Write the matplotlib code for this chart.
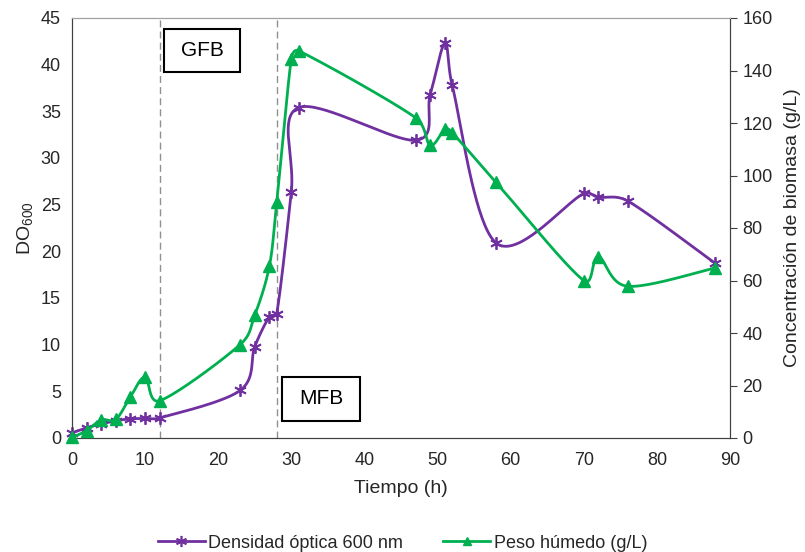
import numpy as np
import matplotlib
matplotlib.use("Agg")
import matplotlib.pyplot as plt
from matplotlib.patches import Rectangle
from matplotlib.lines import Line2D

plt.rcParams['font.family'] = ['Liberation Sans', 'DejaVu Sans']
plt.rcParams['mathtext.default'] = 'regular'

# Data
t_do = [0, 2, 4, 6, 8, 10, 12, 23, 25, 27, 28, 30, 31, 47, 49, 51, 52, 58, 70, 72, 76, 88]
do600 = [0.55, 1.1, 1.5, 1.85, 2.05, 2.1, 2.15, 5.1, 9.8, 13.0, 13.3, 26.4, 35.4, 31.9, 36.8, 42.3, 37.8, 20.9, 26.2, 25.8, 25.4, 18.7]

t_pw = [0, 2, 4, 6, 8, 10, 12, 23, 25, 27, 28, 30, 31, 47, 49, 51, 52, 58, 70, 72, 76, 88]
peso = [0.2, 2.8, 6.9, 7.1, 15.7, 23.2, 14.2, 35.6, 46.8, 65.5, 89.8, 144.5, 147.5, 122.0, 111.5, 117.6, 116.3, 97.4, 60.0, 69.0, 57.8, 64.8]

phase_lines = [12, 28]
phase_labels = ["GFB", "MFB"]

XMAX, Y1MAX, Y2MAX = 90, 45, 160
PW, PH = 658.0, 420.0

def smooth(x, y, ymax, n=40):
    X = np.asarray(x, float) / XMAX * PW
    Y = np.asarray(y, float) / ymax * PH
    P = np.column_stack([X, Y])
    out = [P[0]]
    for i in range(len(P) - 1):
        p0 = P[i - 1] if i > 0 else P[i]
        p1 = P[i]
        p2 = P[i + 1]
        p3 = P[i + 2] if i + 2 < len(P) else P[i + 1]
        L = np.linalg.norm(p2 - p1)
        t1 = (p2 - p0) / 6.0
        t2 = (p3 - p1) / 6.0
        for t in (t1, t2):
            nt = np.linalg.norm(t)
            if nt > L / 2.2 and nt > 0:
                t *= (L / 2.2) / nt
        c1 = p1 + t1
        c2 = p2 - t2
        s = np.linspace(0, 1, n)[1:, None]
        seg = ((1 - s) ** 3) * p1 + 3 * ((1 - s) ** 2) * s * c1 + 3 * (1 - s) * s ** 2 * c2 + s ** 3 * p2
        out.extend(seg)
    out = np.array(out)
    return out[:, 0] / PW * XMAX, out[:, 1] / PH * ymax

purple = '#7030A0'
green = '#00B050'

fig = plt.figure(figsize=(8.05, 5.52), dpi=100)
ax = fig.add_axes([72 / 805, 1 - 438 / 552, 658 / 805, 420 / 552])
ax2 = ax.twinx()

sx, sy = smooth(t_do, do600, Y1MAX)
ax.plot(sx, sy, color=purple, lw=2.0, zorder=3)
ax.plot(t_do, do600, linestyle='none', marker=(6, 2, 0), markersize=9, markeredgewidth=1.3,
        color=purple, zorder=4, clip_on=False)

gx, gy = smooth(t_pw, peso, Y2MAX)
ax2.plot(gx, gy, color=green, lw=2.0, zorder=3)
ax2.plot(t_pw, peso, linestyle='none', marker='^', markersize=8, color=green, zorder=4, clip_on=False)

ax.set_xlim(0, XMAX)
ax.set_ylim(0, Y1MAX)
ax2.set_ylim(0, Y2MAX)
ax.set_xticks(range(0, 91, 10))
ax.set_yticks(range(0, 46, 5))
ax2.set_yticks(range(0, 161, 20))

for xv in phase_lines:
    ax.axvline(xv, color='#909090', lw=1.0, ls=(0, (5, 3)), zorder=1)

ax.tick_params(axis='both', length=0, labelsize=13, colors='#262626')
ax.tick_params(axis='x', pad=10)
ax.tick_params(axis='y', pad=8)
ax2.tick_params(axis='y', length=5, width=0.8, direction='out', labelsize=13, colors='#262626', pad=4)
ax2.tick_params(axis='y', color='#404040')

for a in (ax, ax2):
    a.spines['top'].set_color('#a0a0a0')
    a.spines['left'].set_color('#404040')
    a.spines['right'].set_color('#404040')
    a.spines['bottom'].set_color('#404040')

ax.set_xlabel('Tiempo (h)', fontsize=14, color='#262626', labelpad=8)
ax.set_ylabel('DO$_{600}$', fontsize=14, color='#262626', labelpad=4)
ax2.set_ylabel('Concentración de biomasa (g/L)', fontsize=14, color='#262626', labelpad=8)

boxes = [((164 - 72) / PW, (438 - 72) / PH, 76 / PW, 43 / PH),
         ((282 - 72) / PW, (438 - 421) / PH, 78 / PW, 44 / PH)]
for (bx, by, bw, bh), lab in zip(boxes, phase_labels):
    ax2.add_patch(Rectangle((bx, by), bw, bh, transform=ax.transAxes, facecolor='white',
                            edgecolor='black', lw=1.5, zorder=5))
    ax2.text(bx + bw / 2, by + bh / 2, lab, transform=ax.transAxes, ha='center', va='center',
             fontsize=15, color='black', zorder=6)

handles = [Line2D([], [], color=purple, lw=2, marker=(6, 2, 0), markersize=8, markeredgewidth=1.2),
           Line2D([], [], color=green, lw=2, marker='^', markersize=6)]
fig.legend(handles, ['Densidad óptica 600 nm', 'Peso húmedo (g/L)'], loc='center',
           bbox_to_anchor=(0.5, 1 - 543 / 552), ncol=2, frameon=False, fontsize=13,
           handlelength=2.6, handletextpad=0.2, columnspacing=2.2, labelcolor='#262626')

fig.savefig('out.png', dpi=100)
